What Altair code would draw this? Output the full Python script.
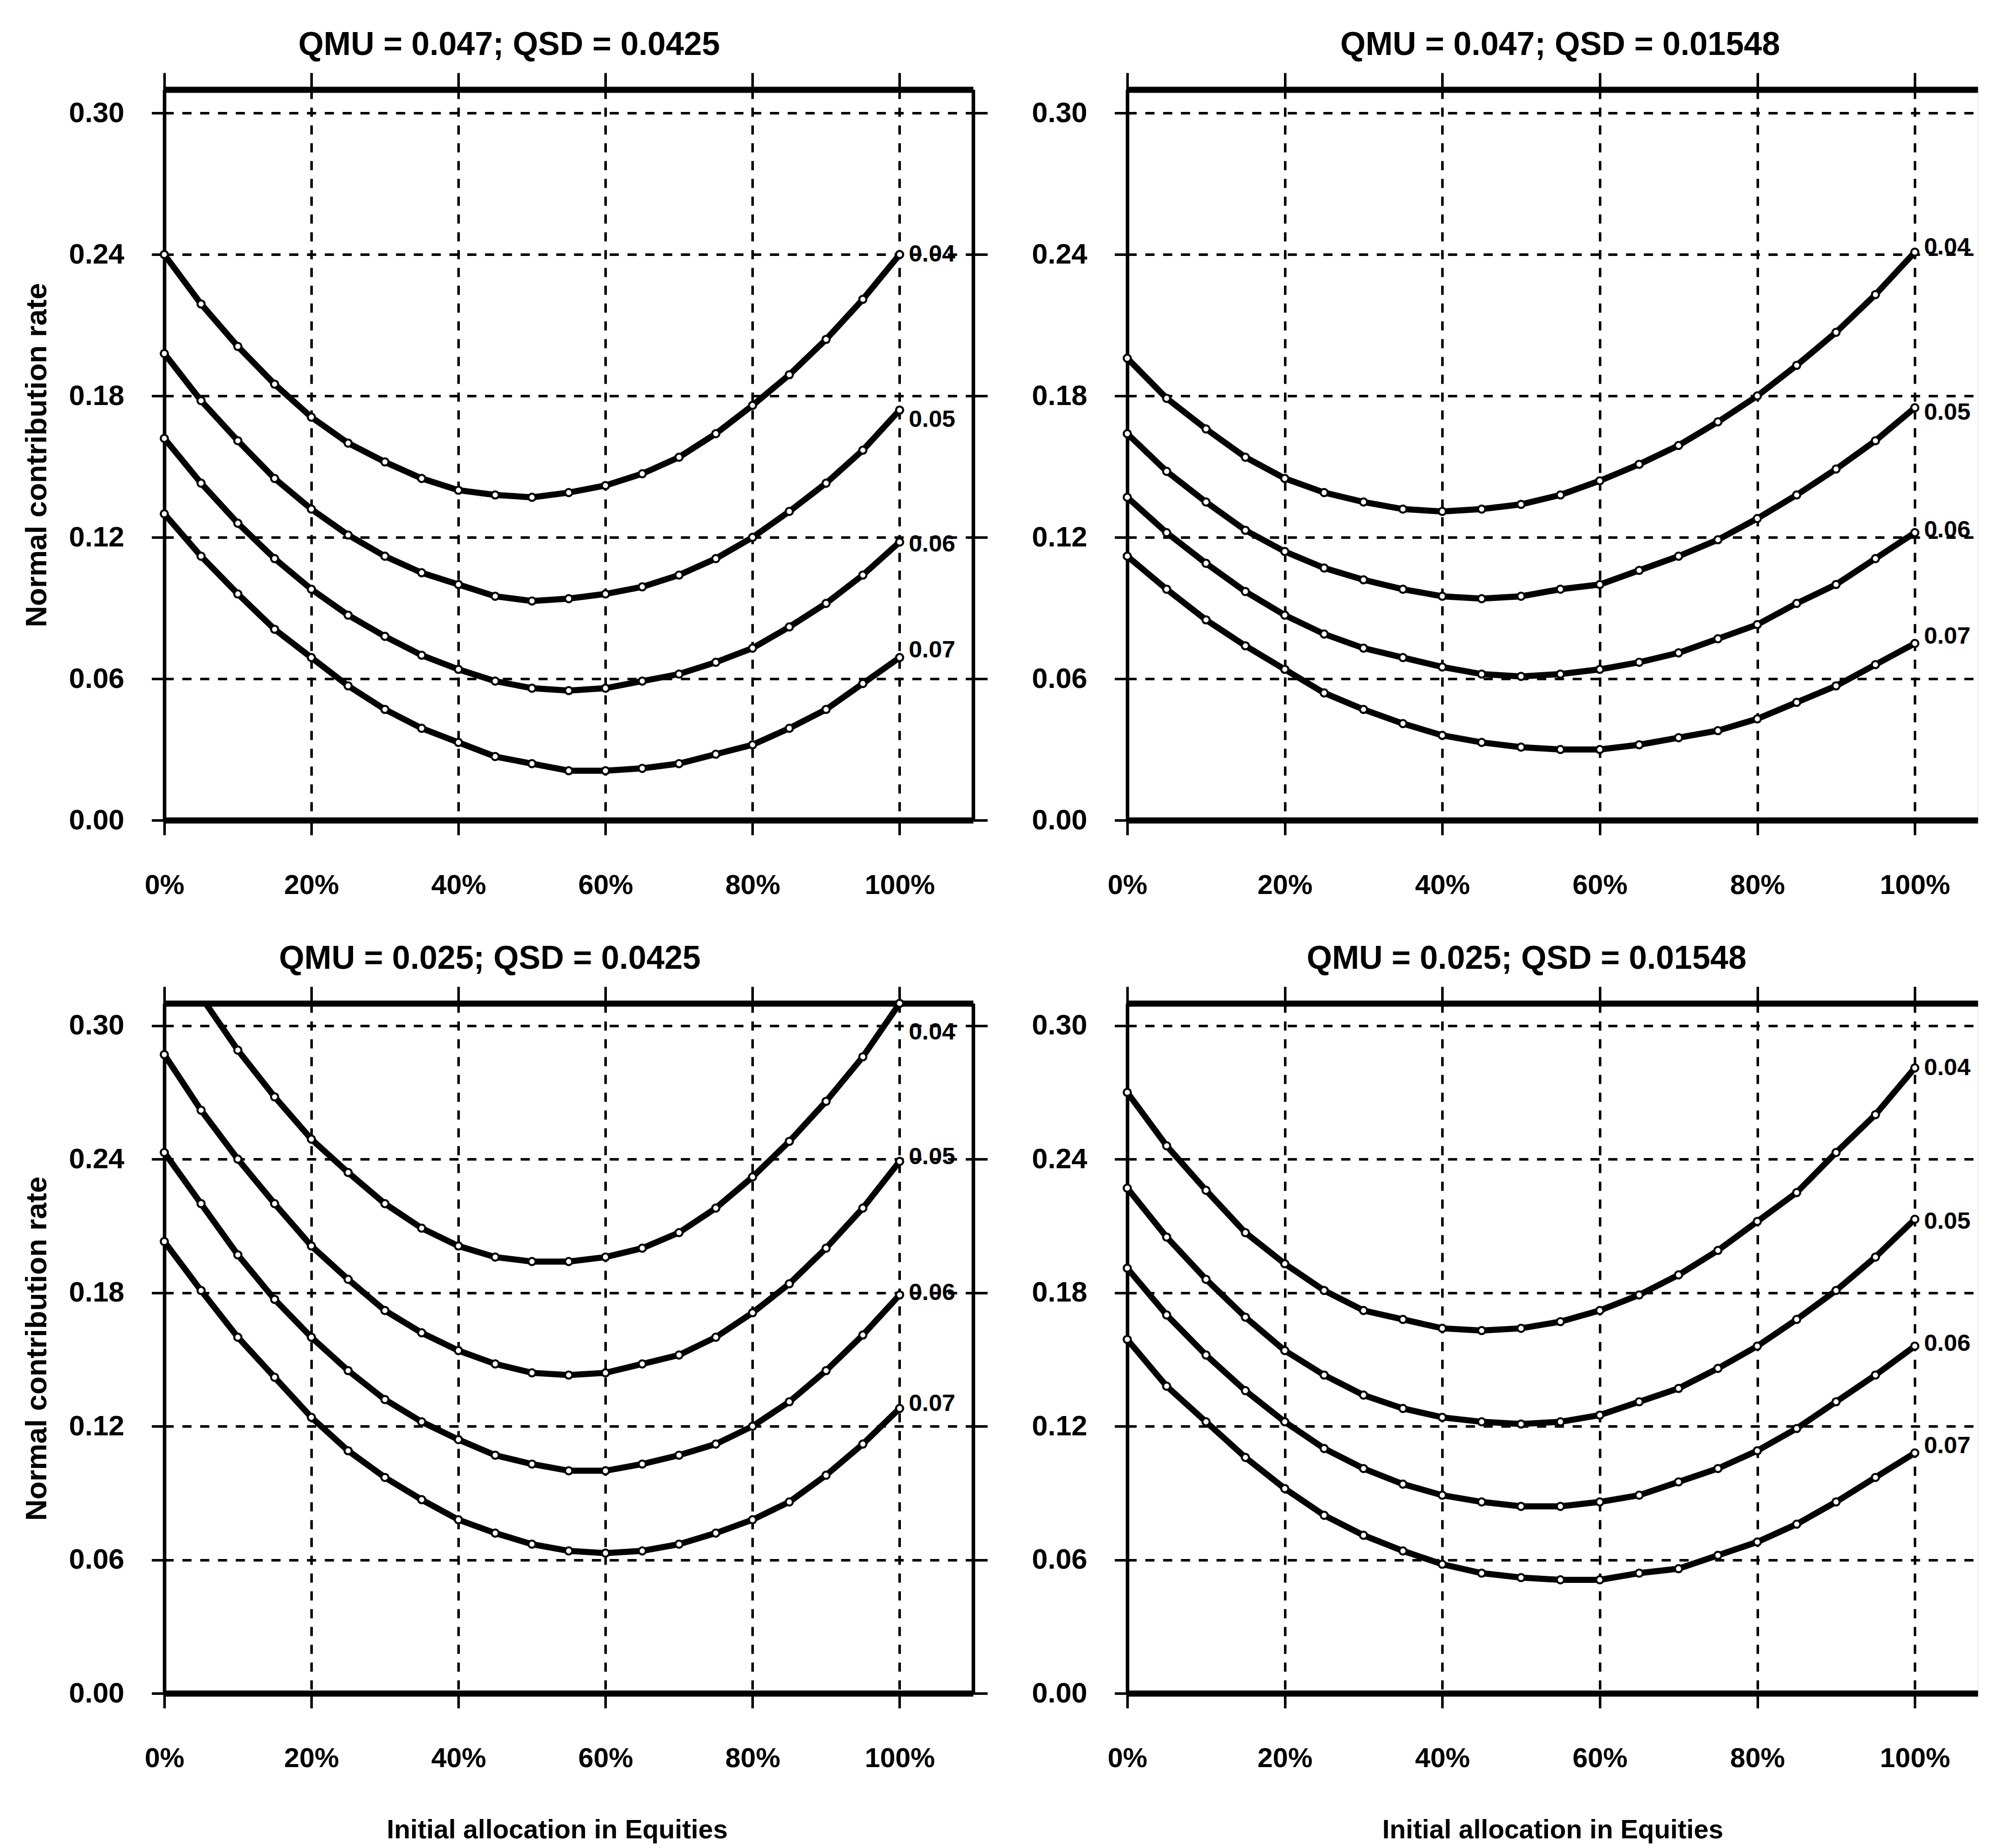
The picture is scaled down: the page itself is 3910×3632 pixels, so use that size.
import altair as alt
import pandas as pd

FONT = "Liberation Sans"

alloc = list(range(0, 101, 5))
rates = ["0.04", "0.05", "0.06", "0.07"]
x_ticks = [0, 20, 40, 60, 80, 100]
y_ticks = [0.0, 0.06, 0.12, 0.18, 0.24, 0.30]

# QMU = 0.047; QSD = 0.0425 (top left)
tl_004 = [0.240, 0.219, 0.201, 0.185, 0.171, 0.160, 0.152, 0.145, 0.140, 0.138, 0.137,
          0.139, 0.142, 0.147, 0.154, 0.164, 0.176, 0.189, 0.204, 0.221, 0.240]
tl_005 = [0.198, 0.178, 0.161, 0.145, 0.132, 0.121, 0.112, 0.105, 0.100, 0.095, 0.093,
          0.094, 0.096, 0.099, 0.104, 0.111, 0.120, 0.131, 0.143, 0.157, 0.174]
tl_006 = [0.162, 0.143, 0.126, 0.111, 0.098, 0.087, 0.078, 0.070, 0.064, 0.059, 0.056,
          0.055, 0.056, 0.059, 0.062, 0.067, 0.073, 0.082, 0.092, 0.104, 0.118]
tl_007 = [0.130, 0.112, 0.096, 0.081, 0.069, 0.057, 0.047, 0.039, 0.033, 0.027, 0.024,
          0.021, 0.021, 0.022, 0.024, 0.028, 0.032, 0.039, 0.047, 0.058, 0.069]
tl_label_y = [0.240, 0.170, 0.117, 0.072]

# QMU = 0.047; QSD = 0.01548 (top right)
tr_004 = [0.196, 0.179, 0.166, 0.154, 0.145, 0.139, 0.135, 0.132, 0.131, 0.132, 0.134,
          0.138, 0.144, 0.151, 0.159, 0.169, 0.180, 0.193, 0.207, 0.223, 0.241]
tr_005 = [0.164, 0.148, 0.135, 0.123, 0.114, 0.107, 0.102, 0.098, 0.095, 0.094, 0.095,
          0.098, 0.100, 0.106, 0.112, 0.119, 0.128, 0.138, 0.149, 0.161, 0.175]
tr_006 = [0.137, 0.122, 0.109, 0.097, 0.087, 0.079, 0.073, 0.069, 0.065, 0.062, 0.061,
          0.062, 0.064, 0.067, 0.071, 0.077, 0.083, 0.092, 0.100, 0.111, 0.122]
tr_007 = [0.112, 0.098, 0.085, 0.074, 0.064, 0.054, 0.047, 0.041, 0.036, 0.033, 0.031,
          0.030, 0.030, 0.032, 0.035, 0.038, 0.043, 0.050, 0.057, 0.066, 0.075]
tr_label_y = [0.243, 0.173, 0.123, 0.078]

# QMU = 0.025; QSD = 0.0425 (bottom left)
bl_004 = [0.338, 0.313, 0.289, 0.268, 0.249, 0.234, 0.220, 0.209, 0.201, 0.196, 0.194,
          0.194, 0.196, 0.200, 0.207, 0.218, 0.232, 0.248, 0.266, 0.286, 0.310]
bl_005 = [0.287, 0.262, 0.240, 0.220, 0.201, 0.186, 0.172, 0.162, 0.154, 0.148, 0.144,
          0.143, 0.144, 0.148, 0.152, 0.160, 0.171, 0.184, 0.200, 0.218, 0.239]
bl_006 = [0.243, 0.220, 0.197, 0.177, 0.160, 0.145, 0.132, 0.122, 0.114, 0.107, 0.103,
          0.100, 0.100, 0.103, 0.107, 0.112, 0.120, 0.131, 0.145, 0.161, 0.179]
bl_007 = [0.203, 0.181, 0.160, 0.142, 0.124, 0.109, 0.097, 0.087, 0.078, 0.072, 0.067,
          0.064, 0.063, 0.064, 0.067, 0.072, 0.078, 0.086, 0.098, 0.112, 0.128]
bl_label_y = [0.297, 0.241, 0.180, 0.130]

# QMU = 0.025; QSD = 0.01548 (bottom right)
br_004 = [0.270, 0.246, 0.226, 0.207, 0.193, 0.181, 0.172, 0.168, 0.164, 0.163, 0.164,
          0.167, 0.172, 0.179, 0.188, 0.199, 0.212, 0.225, 0.243, 0.260, 0.281]
br_005 = [0.227, 0.205, 0.186, 0.169, 0.154, 0.143, 0.134, 0.128, 0.124, 0.122, 0.121,
          0.122, 0.125, 0.131, 0.137, 0.146, 0.156, 0.168, 0.181, 0.196, 0.213]
br_006 = [0.191, 0.170, 0.152, 0.136, 0.122, 0.110, 0.101, 0.094, 0.089, 0.086, 0.084,
          0.084, 0.086, 0.089, 0.095, 0.101, 0.109, 0.119, 0.131, 0.143, 0.156]
br_007 = [0.159, 0.138, 0.122, 0.106, 0.092, 0.080, 0.071, 0.064, 0.058, 0.054, 0.052,
          0.051, 0.051, 0.054, 0.056, 0.062, 0.068, 0.076, 0.086, 0.097, 0.108]
br_label_y = [0.281, 0.212, 0.157, 0.111]

titles = ["QMU = 0.047; QSD = 0.0425", "QMU = 0.047; QSD = 0.01548",
          "QMU = 0.025; QSD = 0.0425", "QMU = 0.025; QSD = 0.01548"]
y_title = "Normal contribution rate"
x_title = "Initial allocation in Equities"

common_axis = dict(domainColor="black", tickColor="black", tickWidth=5,
                   gridColor="black", gridDash=[18, 17], gridWidth=5, gridOpacity=1,
                   labelColor="black", titleColor="black", labelFont=FONT, titleFont=FONT,
                   labelFontWeight="bold", titleFontWeight="bold")


def panel(title, series, label_y, xmax, width, height, show_y_title, show_x_title,
          right_axis, title_dx, x_title_x):
    rows = []
    for r, vals in zip(rates, series):
        for a, v in zip(alloc, vals):
            rows.append({"alloc": a, "ncr": v, "rate": r})
    df = pd.DataFrame(rows)
    lab = pd.DataFrame({"alloc": [100] * len(rates), "ncr": label_y, "rate": rates})

    xscale = alt.Scale(domain=[0, xmax], nice=False, zero=False)
    yscale = alt.Scale(domain=[0, 0.31], nice=False, zero=False)

    bottom_kw = dict(orient="bottom", values=x_ticks, grid=True, tickSize=29, domainWidth=12,
                     labelFontSize=54, labelPadding=72, labelExpr="datum.value + '%'",
                     labelFlush=False, **common_axis)
    if show_x_title:
        bottom_kw.update(title=x_title, titleFontSize=52, titlePadding=88, titleX=x_title_x)
    else:
        bottom_kw.update(title=None)
    left_kw = dict(orient="left", values=y_ticks, grid=True, tickSize=25, domainWidth=7,
                   labelFontSize=56, labelPadding=54, format=".2f", labelFlush=False,
                   **common_axis)
    if show_y_title:
        left_kw.update(title=y_title, titleFontSize=58, titlePadding=33)
    else:
        left_kw.update(title=None)

    top_axis = alt.Axis(orient="top", values=x_ticks, grid=False, labels=False, tickSize=33,
                        domainWidth=12, title=None, **common_axis)
    if right_axis:
        right_y = alt.Axis(orient="right", values=y_ticks, grid=False, labels=False,
                           tickSize=28, domainWidth=7, title=None, **common_axis)
    else:
        right_y = None

    lines = alt.Chart(df).mark_line(color="black", strokeWidth=12, clip=True).encode(
        x=alt.X("alloc:Q", scale=xscale, axis=alt.Axis(**bottom_kw)),
        y=alt.Y("ncr:Q", scale=yscale, axis=alt.Axis(**left_kw)),
        detail="rate:N",
    )
    points = alt.Chart(df).transform_filter("datum.ncr <= 0.3125").mark_point(
        shape="circle", filled=True, fill="white", stroke="black", strokeWidth=4,
        size=200, opacity=1,
    ).encode(
        x=alt.X("alloc:Q", scale=xscale, axis=None),
        y=alt.Y("ncr:Q", scale=yscale, axis=None),
    )
    labels = alt.Chart(lab).mark_text(
        align="left", baseline="middle", dx=18, font=FONT, fontSize=47,
        fontWeight="bold", color="black",
    ).encode(
        x=alt.X("alloc:Q", scale=xscale, axis=top_axis),
        y=alt.Y("ncr:Q", scale=yscale, axis=right_y),
        text="rate:N",
    )
    return alt.layer(lines, points, labels).resolve_axis(
        x="independent", y="independent"
    ).properties(
        width=width, height=height,
        title=alt.TitleParams(text=title, font=FONT, fontSize=64, fontWeight="bold",
                              color="black", anchor="middle", dx=title_dx, offset=-31,
                              baseline="alphabetic"),
    )


LW, RW = 1590, 1672
TH, BH = 1436, 1356

tl = panel(titles[0], [tl_004, tl_005, tl_006, tl_007], tl_label_y, 110, LW, TH,
           True, False, True, -117, 0)
tr = panel(titles[1], [tr_004, tr_005, tr_006, tr_007], tr_label_y, 108, RW, TH,
           False, False, False, 15, 0)
bl = panel(titles[2], [bl_004, bl_005, bl_006, bl_007], bl_label_y, 110, LW, BH,
           True, True, True, -155, 772)
br = panel(titles[3], [br_004, br_005, br_006, br_007], br_label_y, 108, RW, BH,
           False, True, False, -51, 836)

chart = alt.concat(tl, tr, bl, br, columns=2, spacing={"row": 360, "column": 303},
                   bounds="flush").properties(
    padding={"left": 35, "top": 48, "right": 0, "bottom": 0}
).configure_view(strokeWidth=0).configure(background="white")

chart.save("out.html", embed_options={"renderer": "svg", "actions": False})
